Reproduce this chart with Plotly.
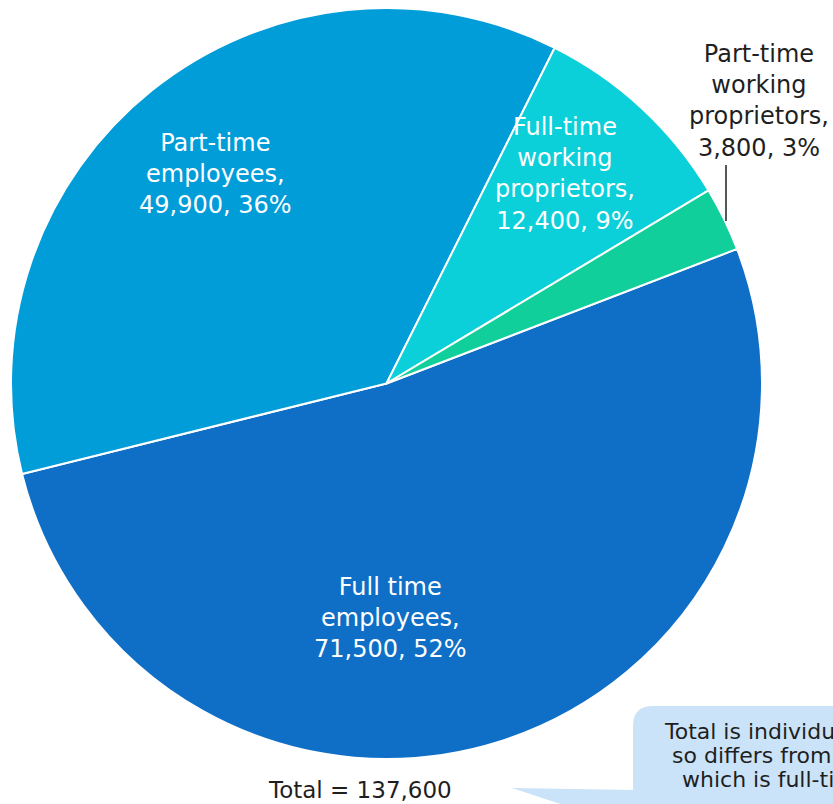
import plotly.graph_objects as go

# Workforce composition
categories = [
    "Full time employees",
    "Part-time employees",
    "Full-time working proprietors",
    "Part-time working proprietors",
]
label_lines = [
    "Full time<br>employees",
    "Part-time<br>employees",
    "Full-time<br>working<br>proprietors",
    "Part-time<br>working<br>proprietors",
]
values = [71500, 49900, 12400, 3800]
colors = ["#0F6FC6", "#009DD9", "#0BD0D9", "#10CF9B"]

total = sum(values)
W, H = 833, 804
FONT = "DejaVu Sans"


def px(x):
    return x / W


def py(y):
    return 1 - y / H


fig = go.Figure(
    go.Pie(
        labels=categories,
        values=values,
        sort=False,
        direction="clockwise",
        rotation=69,
        marker=dict(colors=colors, line=dict(color="white", width=2)),
        textinfo="none",
        hoverinfo="label+value+percent",
        domain=dict(x=[px(11), px(762)], y=[py(759), py(8)]),
        showlegend=False,
    )
)

# label anchor points (pixels) and text colour for each slice
label_pos = [(390, 618), (215, 174), (565, 174), (759, 101)]
label_color = ["white", "white", "white", "#1f1f1f"]

annotations = []
for name, v, (lx, ly), c in zip(label_lines, values, label_pos, label_color):
    pct = round(100 * v / total)
    annotations.append(
        dict(
            x=px(lx), y=py(ly), xref="paper", yref="paper",
            text=f"{name},<br>{v:,}, {pct}%",
            showarrow=False, xanchor="center", yanchor="middle",
            font=dict(family=FONT, size=24, color=c),
        )
    )

annotations.append(
    dict(
        x=px(360), y=py(790), xref="paper", yref="paper",
        text=f"Total = {total:,}", showarrow=False,
        xanchor="center", yanchor="middle",
        font=dict(family=FONT, size=23, color="#1f1f1f"),
    )
)

# callout note
note_lines = ["Total is individuals,", "so differs from jobs,", "which is full-time equivalent"]
note_x = [662, 670, 680]
note_y = [731, 755, 779]
for t, nx, ny in zip(note_lines, note_x, note_y):
    annotations.append(
        dict(
            x=px(nx), y=py(ny), xref="paper", yref="paper", text=t,
            showarrow=False, xanchor="left", yanchor="middle",
            font=dict(family=FONT, size=22, color="#1f1f1f"),
        )
    )

# callout bubble with a pointer towards the total
pts = [(512, 788), (633, 790), (633, 726)]
path = "M " + " L ".join(f"{px(a)},{py(b)}" for a, b in pts)
path += f" Q {px(633)},{py(706)} {px(653)},{py(706)}"
for a, b in [(900, 706), (900, 900), (633, 900), (633, 828)]:
    path += f" L {px(a)},{py(b)}"
path += " Z"

shapes = [
    dict(type="path", path=path, xref="paper", yref="paper",
         fillcolor="#CAE3F8", line=dict(width=0), layer="below"),
    dict(type="line", xref="paper", yref="paper",
         x0=px(726), x1=px(726), y0=py(165), y1=py(221),
         line=dict(color="#1f1f1f", width=1.5)),
]

fig.update_layout(
    width=W, height=H,
    margin=dict(l=0, r=0, t=0, b=0),
    paper_bgcolor="white", plot_bgcolor="white",
    annotations=annotations, shapes=shapes,
)

fig.write_html("out.html")
